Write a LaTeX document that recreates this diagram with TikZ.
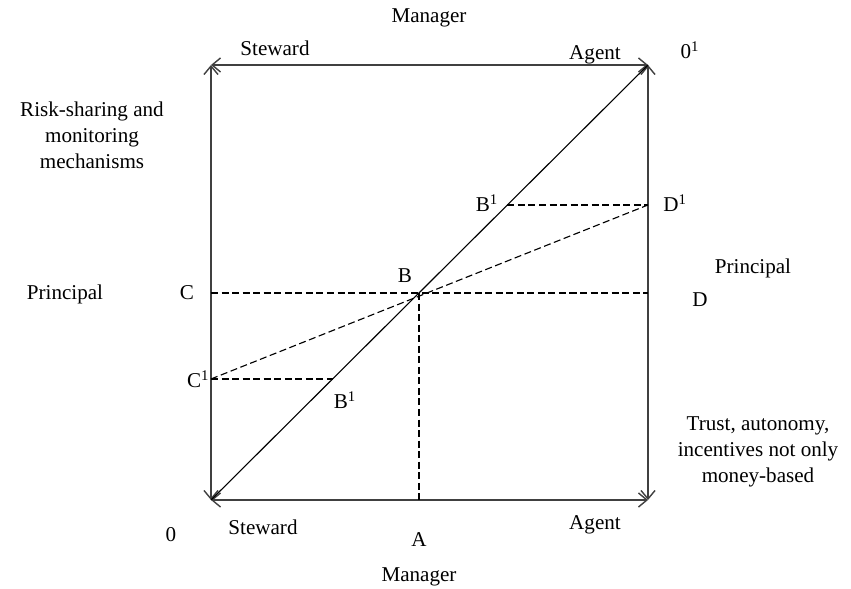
\documentclass[tikz,border=0pt]{standalone}
\usepackage{fontspec}
\setmainfont{Liberation Serif}
\usetikzlibrary{arrows.meta}
\tikzset{
  side/.style={draw=black!75, line width=1pt,
    {Straight Barb[length=6pt,width=10pt]}-{Straight Barb[length=6pt,width=10pt]}},
  guide/.style={dash pattern=on 5pt off 2.5pt, line width=0.8pt},
}
\begin{document}
\begin{tikzpicture}[font=\fontsize{15}{18.5}\selectfont]
	\useasboundingbox (-5.275,-2.225) rectangle (16,12.5);
	\coordinate (O) at (0,0);
	\coordinate (P) at (0,10.875);
	\coordinate (Q) at (10.925,0);
	\coordinate (O1) at (10.925,10.875);
	% sides of the box
	\draw[side] (P) -- (O1);
	\draw[side] (O) -- (Q);
	\draw[side] (O) -- (P);
	\draw[side] (Q) -- (O1);
	% diagonal
	\draw[line width=0.8pt] (O) -- (O1)
		coordinate[pos=0.2782] (B1l)
		coordinate[pos=0.4759] (B)
		coordinate[pos=0.6782] (B1u);
	\coordinate (C) at (B -| O);
	\coordinate (D) at (B -| Q);
	\coordinate (A) at (B |- O);
	\coordinate (C1) at (B1l -| O);
	\coordinate (D1) at (B1u -| Q);
	\draw[guide] (C) -- (D);
	\draw[guide] (B) -- (A);
	\draw[guide] (C1) -- (B1l);
	\draw[guide] (B1u) -- (D1);
	\draw[guide] (C1) -- (D1);
	% labels
	\node (mgrT) at (5.45,12.05) {Manager};
	\node (stwT) at (1.6,11.3) {Steward};
	\node (agtT) at (9.6,11.125) {Agent};
	\node (lblO1) at (11.975,11.25) {0\textsuperscript{1}};
	\node (lblO) at (-1.0,-0.875) {0};
	\node (stwB) at (1.3,-0.675) {Steward};
	\node (lblA) at (5.2,-1.0) {A};
	\node (agtB) at (9.6,-0.625) {Agent};
	\node (mgrB) at (5.2,-1.925) {Manager};
	\node[align=center] (risk) at (-2.975,9.125) {Risk-sharing and\\monitoring\\mechanisms};
	\node[align=center] (trust) at (13.675,1.2) {Trust, autonomy,\\incentives not only\\money-based};
	\node (prL) at (-3.65,5.15) {Principal};
	\node (prR) at (13.55,5.8) {Principal};
	\node (lblC) at (-0.6,5.175) {C};
	\node (lblD) at (12.225,5.0) {D};
	\node (lblB) at (4.85,5.6) {B};
	\node (lblB1u) at (6.9,7.425) {B\textsuperscript{1}};
	\node (lblD1) at (11.6,7.425) {D\textsuperscript{1}};
	\node (lblB1l) at (3.35,2.5) {B\textsuperscript{1}};
	\node[anchor=east, inner sep=1pt] (lblC1) at (C1) {C\textsuperscript{1}};
\end{tikzpicture}
\end{document}
